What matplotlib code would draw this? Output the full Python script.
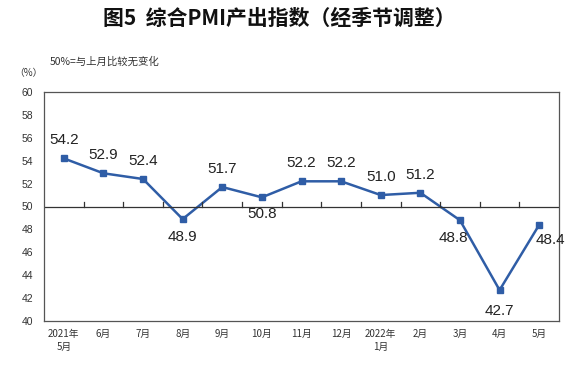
import matplotlib
matplotlib.use("Agg")
import matplotlib.pyplot as plt
import numpy as np

plt.rcParams['font.family'] = ['Noto Sans CJK SC', 'DejaVu Sans']

# Data
months = ["2021年\n5月", "6月", "7月", "8月", "9月", "10月", "11月", "12月",
          "2022年\n1月", "2月", "3月", "4月", "5月"]
values = [54.2, 52.9, 52.4, 48.9, 51.7, 50.8, 52.2, 52.2, 51.0, 51.2, 48.8, 42.7, 48.4]

# label offsets in points (dx, dy) relative to each point
offsets = [(0, 13), (0, 13), (0, 13), (0, -13), (0, 13), (0, -12), (0, 13), (0, 13),
           (0, 13), (0, 13), (-5, -13), (0, -15), (8, -11)]

fig = plt.figure(figsize=(5.74, 3.66), dpi=100)
ax = fig.add_axes([44 / 574, 1 - 321 / 366, (559 - 44) / 574, (321 - 92) / 366])

x = np.arange(len(values))
ax.plot(x, values, '-', color='#2F5DA6', lw=1.8, marker='s', markersize=4)

for xi, v, (dx, dy) in zip(x, values, offsets):
    ax.annotate(f"{v:.1f}", (xi, v), xytext=(dx, dy), textcoords='offset points',
                ha='center', va='center', fontsize=11, color='#222222',
                family=['Liberation Sans', 'DejaVu Sans'])

ax.set_xlim(-0.5, len(values) - 0.5)
ax.set_ylim(40, 60)
ax.set_yticks(range(40, 61, 2))
ax.tick_params(axis='y', length=0, labelsize=7.5, colors='#333333', pad=8)
ax.set_yticklabels([str(t) for t in range(40, 61, 2)],
                   family=['Liberation Sans', 'DejaVu Sans'])

# category labels below the box, axis line at 50
ax.set_xticks(x)
ax.set_xticklabels(months, fontsize=7, color='#333333', linespacing=1.3)
ax.tick_params(axis='x', length=0, pad=6)

ax.axhline(50, color='#333333', lw=0.9)
for b in np.arange(0.5, len(values) - 1, 1):
    ax.plot([b, b], [50, 50.35], color='#333333', lw=0.9)

for s in ax.spines.values():
    s.set_color('#555555')
    s.set_linewidth(0.9)

fig.text(0.486, 1 - 18 / 366, "图5  综合PMI产出指数（经季节调整）", ha='center', va='center',
         fontsize=15, fontweight='bold', color='#111111')
fig.text(50 / 574, 1 - 62 / 366, "50%=与上月比较无变化", ha='left', va='center',
         fontsize=7.5, color='#333333')
fig.text(28 / 574, 1 - 73 / 366, "（%）", ha='center', va='center',
         fontsize=7, color='#333333')

fig.savefig("out.png", dpi=100)
